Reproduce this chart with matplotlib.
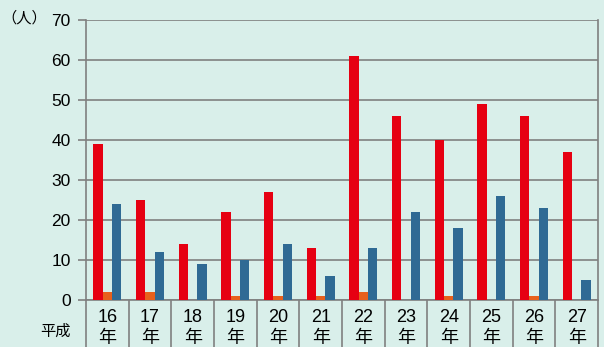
import numpy as np
import matplotlib.pyplot as plt

plt.rcParams['font.family'] = ['Liberation Sans', 'Noto Sans CJK JP']

years = ["16", "17", "18", "19", "20", "21", "22", "23", "24", "25", "26", "27"]
red_vals = [39, 25, 14, 22, 27, 13, 61, 46, 40, 49, 46, 37]
orange_vals = [2, 2, 0, 1, 1, 1, 2, 0, 1, 0, 1, 0]
blue_vals = [24, 12, 9, 10, 14, 6, 13, 22, 18, 26, 23, 5]

BG = "#d9efea"
GRID = "#808080"
RED = "#e60012"
ORANGE = "#e8601c"
BLUE = "#2f6a94"
JP = ['Noto Sans CJK JP', 'DejaVu Sans']

W, H = 604, 347
fig = plt.figure(figsize=(W / 100, H / 100), dpi=100, facecolor=BG)
left, right, top, bottom = 86, 598, 20, 300
ax = fig.add_axes([left / W, 1 - bottom / H, (right - left) / W, (bottom - top) / H])
ax.set_facecolor(BG)

x = np.arange(len(years))
bw = 0.22
ax.bar(x - bw, red_vals, bw, color=RED, zorder=3)
ax.bar(x, orange_vals, bw, color=ORANGE, zorder=3)
ax.bar(x + bw, blue_vals, bw, color=BLUE, zorder=3)

ax.set_xlim(-0.5, len(years) - 0.5)
ax.set_ylim(0, 70)
ax.set_yticks(range(0, 71, 10))
ax.yaxis.grid(True, color=GRID, lw=1.2, zorder=1)
ax.tick_params(axis="y", length=6, width=1.2, color=GRID, labelsize=12.5, pad=5)
ax.set_xticks([])
for s in ["left", "right", "bottom"]:
    ax.spines[s].set_color(GRID)
    ax.spines[s].set_linewidth(1.2)
ax.spines["top"].set_visible(False)

# separators in label area
drop = (H - bottom) / (bottom - top)
ax.vlines(np.arange(-0.5, len(years)), 0, -drop, transform=ax.get_xaxis_transform(),
          color=GRID, lw=1.2, clip_on=False)

for i, y in enumerate(years):
    ax.text(i, -18 / (bottom - top), y, transform=ax.get_xaxis_transform(),
            ha="center", va="center", fontsize=13)
    ax.text(i, -38 / (bottom - top), "年", transform=ax.get_xaxis_transform(),
            ha="center", va="center", fontsize=13, family=JP)

fig.text(55 / W, 1 - 331 / H, "平成", ha="center", va="center", fontsize=11, family=JP)
fig.text(24 / W, 1 - 18 / H, "（人）", ha="center", va="center", fontsize=11, family=JP)

fig.savefig("out.png", dpi=100, facecolor=BG)
